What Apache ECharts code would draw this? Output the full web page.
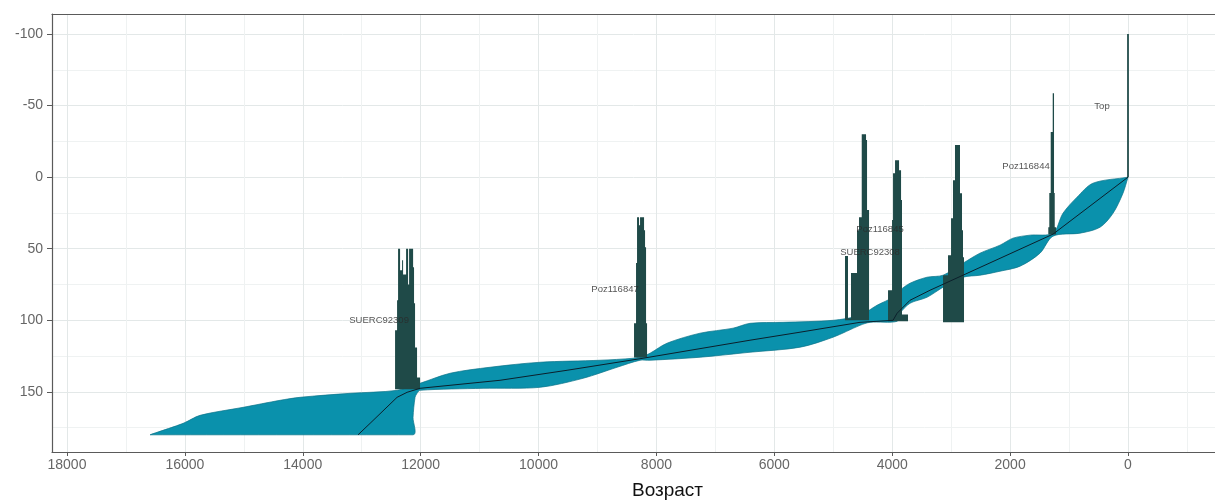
<!DOCTYPE html>
<html>
<head>
<meta charset="utf-8">
<title>Возраст</title>
<script src="https://cdn.jsdelivr.net/npm/echarts@6/dist/echarts.min.js"></script>
<style>
    html, body {margin: 0; padding: 0; background: #fff;}
    #main {width: 1215px; height: 504px;}
</style>
</head>
<body>
<div id="main"></div>
<script>
// 刻度
var ageTicks = [18000, 16000, 14000, 12000, 10000, 8000, 6000, 4000, 2000, 0];
var ageMinor = [17000, 15000, 13000, 11000, 9000, 7000, 5000, 3000, 1000, -1000];
var depthTicks = [-100, -50, 0, 50, 100, 150];
var depthMinor = [-75, -25, 25, 75, 125, 175];

// 年龄范围：老的一边和年轻的一边 [age, depth]，从底部到顶部
var rangeOld = [[16590, 180], [16030, 172], [15742, 166.4], [15012, 160.8], [14385, 155.9], [14045, 153.8],
    [13197, 151], [12400, 148.9], [12010, 144], [11501, 137], [10822, 132.8], [9974, 129.3], [8956, 127.9],
    [8397, 126.5], [8227, 125.1], [8108, 123], [7820, 116], [7260, 109], [6700, 105.5], [6412, 102.1],
    [5852, 101.4], [5004, 100], [4546, 96.5], [4258, 89.5], [3986, 83.9], [3868, 79], [3698, 74.1],
    [3410, 69.9], [3138, 68.5], [2799, 60.1], [2511, 53.1], [2171, 47.5], [1951, 42.6], [1662, 40.5],
    [1272, 39.1], [1103, 25.2], [865, 14], [594, 4.2], [0, 0]];
var rangeYoung = [[12129, 180], [12129, 167.8], [12095, 153.8], [12061, 151], [12010, 148.9], [10941, 147.5],
    [9974, 146.8], [9245, 140.5], [8668, 132.8], [8278, 127.9], [8108, 127.9], [7260, 125.8], [6412, 122.3],
    [5564, 118.8], [5004, 111.8], [4546, 103.5], [4376, 101.4], [3918, 100.7], [3868, 95.1], [3698, 88.1],
    [3410, 83.9], [3138, 76.9], [2799, 69.9], [2511, 68.5], [2171, 65.7], [1832, 62.2], [1493, 53.1],
    [1272, 41.2], [814, 39.1], [475, 35], [254, 25.2], [85, 11.2], [0, 0]];
// 平均线
var meanLine = [[13062, 180], [12858, 172], [12400, 153.8], [12230, 150.3], [12010, 147.5], [10653, 141.9],
    [9516, 134.9], [8227, 126.5], [6412, 113.9], [5564, 108.3], [4546, 101.4], [3986, 100], [3918, 95.1],
    [3698, 86], [3359, 79], [1272, 39.8], [0, 0]];

// 校正日期分布：底部深度，年龄边界，顶部深度
var peakBase = [0, 40, 101.4, 100.7, 100, 126, 148.2];
var peakEdges = [
    [15, -15],
    [1352, 1335, 1311, 1277, 1255, 1243, 1221],
    [3138, 3053, 3002, 2969, 2935, 2850, 2816, 2799, 2782],
    [4071, 4003, 3986, 3952, 3884, 3850, 3834, 3732],
    [4801, 4750, 4699, 4597, 4563, 4517, 4444, 4427, 4393],
    [8380, 8346, 8329, 8295, 8278, 8210, 8193, 8176, 8159],
    [12434, 12400, 12383, 12349, 12315, 12298, 12247, 12213, 12196, 12128, 12112, 12095, 12061, 12010]
];
var peakTops = [
    [-100],
    [35, 11, -31.5, -58.7, 11, 35],
    [68.5, 54.5, 28.7, 2.1, -22.4, 11.2, 37, 56],
    [79, 30, -2.8, -11.9, -4.9, 16, 96],
    [55, 98.6, 67, 37, 28, -30, -26, 23],
    [102, 60, 28, 33.5, 28, 37, 49, 102],
    [107, 86, 50, 65, 58, 68, 50, 75, 50, 63, 88, 119, 140]
];

// 标签
var labelNames = ['Top', 'Poz116844', 'Poz116845', 'SUERC92308', 'Poz116847', 'SUERC92309'];
var labelAges = [441, 1730, 4207, 4376, 8702, 12705];
var labelDepths = [-49.6, -7.7, 36.3, 52.4, 78.3, 100];

var myChart = echarts.init(document.getElementById('main'));

function renderRange(params, api) {
    var pts = [];
    rangeOld.forEach(function (p) {
        pts.push(api.coord(p));
    });
    for (var k = rangeYoung.length - 1; k >= 0; k--) {
        pts.push(api.coord(rangeYoung[k]));
    }
    // 平滑时不超出外框
    var lo = [Infinity, Infinity], hi = [-Infinity, -Infinity];
    pts.forEach(function (p) {
        lo = [Math.min(lo[0], p[0]), Math.min(lo[1], p[1])];
        hi = [Math.max(hi[0], p[0]), Math.max(hi[1], p[1])];
    });
    return {
        type: 'polygon',
        shape: {points: pts, smooth: 0.3, smoothConstraint: [lo, hi]},
        style: {fill: '#0a91ac', stroke: '#0a7288', lineWidth: 0.7}
    };
}

function renderPeak(params, api) {
    var i = params.dataIndex;
    var edges = peakEdges[i], tops = peakTops[i], base = peakBase[i];
    var pts = [api.coord([edges[0], base])];
    for (var k = 0; k < tops.length; k++) {
        pts.push(api.coord([edges[k], tops[k]]));
        pts.push(api.coord([edges[k + 1], tops[k]]));
    }
    pts.push(api.coord([edges[edges.length - 1], base]));
    return {
        type: 'polygon',
        shape: {points: pts},
        style: {fill: '#1f4a48'}
    };
}

var plain = function (v) {
    return String(v);
};
var axisColor = '#5a5a5a';
var labelFont = 'Liberation Sans';

var option = {
    animation: false,
    grid: {left: 52, right: 0, top: 14, bottom: 52, outerBoundsMode: 'none'},
    xAxis: [{
        type: 'value', inverse: true, min: -1476, max: 18254, position: 'bottom',
        axisLine: {show: true, onZero: false, lineStyle: {color: axisColor, width: 1.2}},
        axisTick: {show: true, length: 4, customValues: ageTicks, lineStyle: {color: axisColor}},
        axisLabel: {customValues: ageTicks, formatter: plain, color: '#666', fontSize: 14, margin: 6, fontFamily: labelFont},
        splitLine: {show: true, lineStyle: {color: '#e3e8e8', width: 1}}
    }, {
        type: 'value', inverse: true, min: -1476, max: 18254, position: 'top',
        axisLine: {show: true, onZero: false, lineStyle: {color: axisColor, width: 1.2}},
        axisTick: {show: false, customValues: ageMinor},
        axisLabel: {show: false},
        splitLine: {show: true, lineStyle: {color: '#eff2f2', width: 1}}
    }],
    yAxis: [{
        type: 'value', inverse: true, min: -114, max: 192, position: 'left',
        axisLine: {show: true, onZero: false, lineStyle: {color: axisColor, width: 1.2}},
        axisTick: {show: true, length: 5, customValues: depthTicks, lineStyle: {color: axisColor}},
        axisLabel: {customValues: depthTicks, formatter: plain, color: '#666', fontSize: 14, margin: 9, fontFamily: labelFont},
        splitLine: {show: true, lineStyle: {color: '#e3e8e8', width: 1}}
    }, {
        type: 'value', inverse: true, min: -114, max: 192, position: 'right',
        axisLine: {show: false},
        axisTick: {show: false, customValues: depthMinor},
        axisLabel: {show: false},
        splitLine: {show: true, lineStyle: {color: '#eff2f2', width: 1}}
    }],
    graphic: [{
        type: 'text', left: 632, top: 481,
        style: {text: 'Возраст', fontSize: 19, fill: '#111', fontFamily: labelFont}
    }],
    series: [{
        // 范围
        type: 'custom', silent: true, z: 2,
        renderItem: renderRange,
        data: [[0, 0]]
    }, {
        // 日期分布
        type: 'custom', silent: true, z: 3,
        renderItem: renderPeak,
        data: peakBase.map(function (b, i) {
            return [peakEdges[i][0], b];
        })
    }, {
        type: 'line', silent: true, z: 4,
        showSymbol: false,
        data: meanLine,
        lineStyle: {color: '#0b1f2b', width: 1}
    }, {
        type: 'scatter', silent: true, z: 5,
        symbolSize: 1,
        itemStyle: {color: 'transparent'},
        data: labelAges.map(function (a, i) {
            return [a, labelDepths[i], labelNames[i]];
        }),
        label: {
            show: true, position: 'inside', color: '#2b2b2b', fontSize: 9.5, fontFamily: labelFont,
            formatter: function (p) {
                return p.data[2];
            }
        }
    }]
};

myChart.setOption(option);
</script>
</body>
</html>
